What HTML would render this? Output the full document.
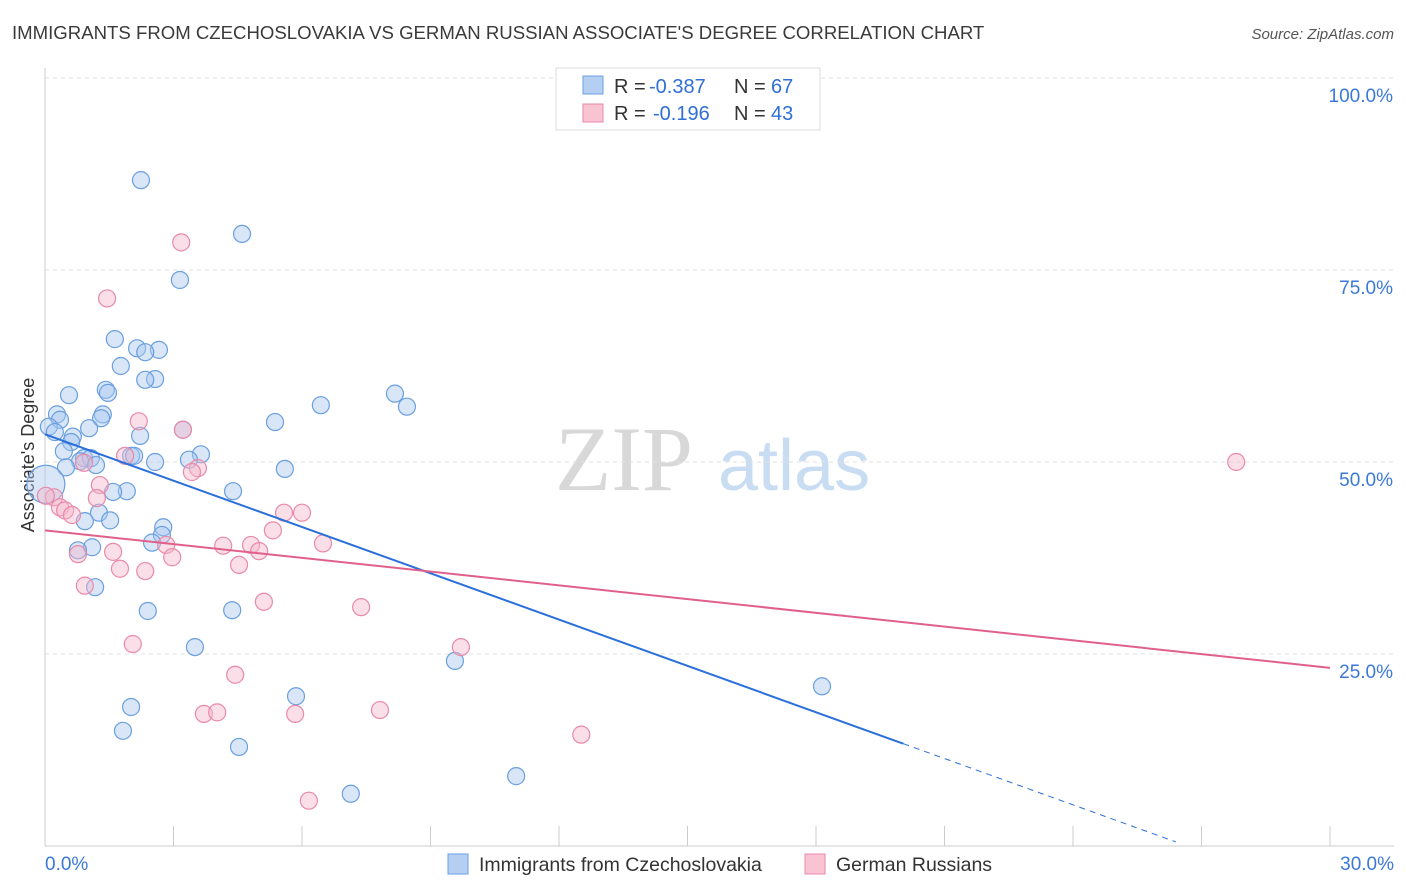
<!DOCTYPE html>
<html><head><meta charset="utf-8"><style>
body{margin:0;background:#fff;font-family:"Liberation Sans",sans-serif;}
#wrap{position:relative;width:1406px;height:892px;overflow:hidden;}
</style></head><body>
<div id="wrap">
<svg id="chart" width="1406" height="892">
<text x="12" y="39" font-size="18.6" fill="#3a3a3a">IMMIGRANTS FROM CZECHOSLOVAKIA VS GERMAN RUSSIAN ASSOCIATE'S DEGREE CORRELATION CHART</text>
<text x="1394" y="39" font-size="15" fill="#555" text-anchor="end" font-style="italic">Source: ZipAtlas.com</text>
<text x="0" y="0" font-size="18" fill="#333" transform="translate(34,455) rotate(-90)" text-anchor="middle">Associate's Degree</text>
<g><text x="555" y="490" font-size="92" fill="#d8d8d8" font-family="Liberation Serif,serif">ZIP</text><text x="718" y="490" font-size="72" fill="#c8dcf2">atlas</text></g>
<g id="grid"></g><g id="lines"></g><g id="pts"></g>
<g>
<rect x="556" y="68" width="264" height="62" fill="#fff" stroke="#ddd"/>
<rect x="583" y="76" width="20" height="18" fill="#b4cff2" stroke="#6a9fe0"/>
<rect x="583" y="104" width="20" height="18" fill="#f8c4d4" stroke="#e88aa8"/>
<g font-size="20" fill="#333">
<text x="614" y="93">R =</text><text x="649" y="93" fill="#2f6fd6">-0.387</text>
<text x="734" y="93">N =</text><text x="771" y="93" fill="#2f6fd6">67</text>
<text x="614" y="120">R =</text><text x="653" y="120" fill="#2f6fd6">-0.196</text>
<text x="734" y="120">N =</text><text x="771" y="120" fill="#2f6fd6">43</text>
</g>
</g>
<g>
<rect x="448" y="854" width="20" height="20" fill="#b4cff2" stroke="#6a9fe0"/>
<text x="479" y="871" font-size="19.5" fill="#333">Immigrants from Czechoslovakia</text>
<rect x="805" y="854" width="20" height="20" fill="#f8c4d4" stroke="#e88aa8"/>
<text x="836" y="871" font-size="19.5" fill="#333">German Russians</text>
</g>
</svg>
</div>
<script>
const xTickLabels=["0.0%","30.0%"];
const yTicks=[25,50,75,100];
const yTickLabels=["25.0%","50.0%","75.0%","100.0%"];
const blueX=[2.24,4.60,3.15,1.63,2.15,2.66,2.34,1.77,2.57,2.34,0.56,1.42,1.47,8.17,8.45,6.44,0.28,0.35,1.35,1.31,5.37,1.03,0.09,0.23,3.22,2.22,0.65,0.61,0.44,2.01,2.08,3.64,0.91,1.07,0.82,3.36,2.57,1.19,0.49,5.60,1.91,1.59,4.39,1.26,1.52,0.93,2.76,2.73,2.50,1.10,0.77,1.17,2.40,4.37,3.50,9.57,5.86,18.14,2.01,1.82,4.53,11.0,7.14,0.02];
const blueY=[86.7,79.7,73.7,66.0,64.8,64.6,64.3,62.5,60.8,60.7,58.7,59.4,59.0,58.9,57.2,57.4,56.2,55.5,56.2,55.7,55.2,54.4,54.6,53.9,54.2,53.4,53.3,52.6,51.4,50.8,50.8,51.0,50.5,50.5,50.1,50.3,50.0,49.6,49.3,49.1,46.2,46.1,46.2,43.4,42.4,42.3,41.5,40.5,39.5,38.9,38.5,33.7,30.6,30.7,25.9,24.1,19.5,20.8,18.1,15.0,12.9,9.1,6.8,47.1];
const pinkX=[3.18,1.45,2.19,3.22,3.57,3.43,1.87,0.91,0.21,0.35,0.47,0.63,1.28,1.21,5.58,6.00,5.32,6.49,4.16,4.81,5.00,1.59,2.83,2.97,0.77,4.53,1.75,2.34,0.93,5.11,7.38,2.05,9.71,4.44,3.71,4.02,5.84,7.82,12.52,6.16,27.81,0.02];
const pinkY=[78.6,71.3,55.3,54.2,49.2,48.7,50.8,49.9,45.4,44.1,43.7,43.1,47.0,45.3,43.4,43.4,41.1,39.4,39.1,39.2,38.4,38.3,39.2,37.6,38.0,36.6,36.1,35.8,33.9,31.8,31.1,26.3,25.9,22.3,17.2,17.4,17.2,17.7,14.5,5.9,50.0,45.6];
const blueTrend=[53.6,-2.01,20.04,26.4];
const pinkTrend=[41.1,23.2];
const NS="http://www.w3.org/2000/svg";
const sx=v=>45+v/30*1285, sy=v=>846-v/100*768;
function mk(tag,attrs,parent){const e=document.createElementNS(NS,tag);for(const k in attrs)e.setAttribute(k,attrs[k]);parent.appendChild(e);return e;}
const grid=document.getElementById('grid');
yTicks.forEach((t,i)=>{
 const l=mk('line',{x1:45,x2:1394,y1:sy(t),y2:sy(t),stroke:'#e2e2e2','stroke-dasharray':'4,4'},grid);
 
 
 const tx=mk('text',{x:1393,y:sy(t)+24,'font-size':19,fill:'#3b78d8','text-anchor':'end'},grid);
 tx.textContent=yTickLabels[i];
 
 
});
const ax=mk('line',{x1:45,x2:1394,y1:846,y2:846,stroke:'#ccc'},grid);


const ay=mk('line',{x1:45,x2:45,y1:68,y2:846,stroke:'#ccc'},grid);


for(let i=0;i<=10;i++){const x=45+i*128.5;const t=mk('line',{x1:x,x2:x,y1:826,y2:846,stroke:'#ccc'},grid);
 
 }
[[0,"start",45],[1,"end",1394]].forEach(([i,a,x])=>{const t=mk('text',{x:x,y:870,'font-size':19,fill:'#3b78d8','text-anchor':a},grid);t.textContent=xTickLabels[i];
 
 });
const pts=document.getElementById('pts');
function drawPts(X,Y,fill,stroke,name,bigOk){X.forEach((x,i)=>{const big=bigOk&&(x<0.05);const c=mk('circle',{cx:sx(x),cy:sy(Y[i]),r:big?19:8.5,fill:fill,'fill-opacity':0.45,stroke:stroke,'stroke-width':1.2},pts);
 
 });}
drawPts(blueX,blueY,'#a8c8f0','#6a9fe0','point-czech',true);
drawPts(pinkX,pinkY,'#f4b8cc','#e88aa8','point-german-russian',false);
const bt=x=>blueTrend[0]+blueTrend[1]*x;
const b1=mk('line',{x1:sx(0),y1:sy(bt(0)),x2:sx(blueTrend[2]),y2:sy(bt(blueTrend[2])),stroke:'#2a6fdb','stroke-width':2},pts);


const b2=mk('line',{x1:sx(blueTrend[2]),y1:sy(bt(blueTrend[2])),x2:sx(blueTrend[3]),y2:sy(bt(blueTrend[3])),stroke:'#2a6fdb','stroke-width':1,'stroke-dasharray':'6,5'},pts);


const p1=mk('line',{x1:sx(0),y1:sy(pinkTrend[0]),x2:sx(30),y2:sy(pinkTrend[1]),stroke:'#e0608a','stroke-width':2},pts);


</script>
</body></html>
